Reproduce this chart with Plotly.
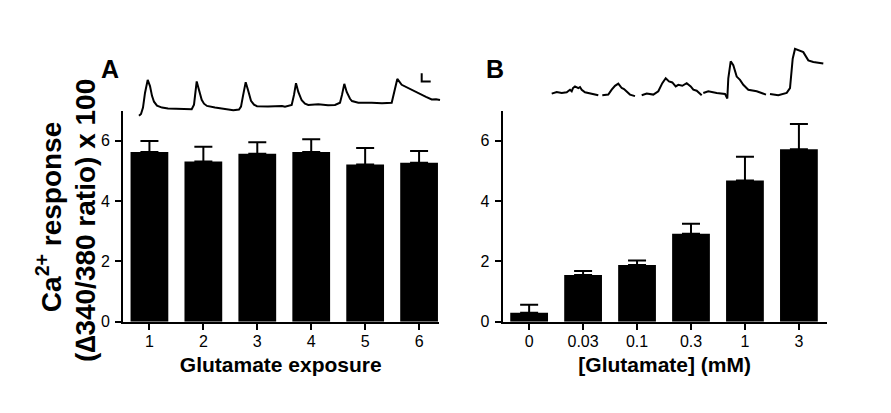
import plotly.graph_objects as go

W, H = 891, 413

# ---- Data ----
exposure = [1, 2, 3, 4, 5, 6]
resp_a = [5.63, 5.31, 5.57, 5.63, 5.21, 5.27]
err_a = [0.36, 0.49, 0.38, 0.42, 0.55, 0.39]

glu_labels = ["0", "0.03", "0.1", "0.3", "1", "3"]
glu_pos = [0, 1, 2, 3, 4, 5]
resp_b = [0.30, 1.55, 1.88, 2.92, 4.68, 5.72]
err_b = [0.27, 0.13, 0.15, 0.33, 0.79, 0.83]

# Example Ca2+ traces (in trace-window units)
trace_a_x = [139, 141, 143, 145, 147.7, 150, 152, 154, 157, 162, 168, 175, 183, 191.7, 194, 195.5, 196.7,
             199, 201.7, 204, 207, 215, 225, 233.3, 239, 241, 243, 245.7, 248, 251, 254, 257, 268, 282,
             285, 291.7, 294, 296, 298.3, 301.7, 305, 308.3, 318.3, 328, 335, 340, 342, 344.3, 346.7, 350,
             352, 358.3, 371.7, 382, 391.7, 393.3, 395.5, 397.3, 401.7, 406, 411.7, 416, 421.7, 426, 431.7,
             436, 440]
trace_a_y = [118.3, 116.5, 110, 95, 81.7, 88, 98, 104, 108, 110, 111, 111.3, 111.5, 111.7, 107, 95, 83.3,
             92, 102, 106, 108.3, 110, 111.7, 112.7, 112, 109, 98, 84, 92, 103, 107, 108.5, 109, 108.3,
             109, 107.3, 97, 85, 94, 102.5, 106, 107.3, 106.7, 107.5, 107.3, 105, 97, 85.7, 94, 101,
             103.3, 105, 105, 105.5, 105, 98.3, 86, 80.7, 86.7, 89, 91.7, 93.5, 96.7, 99, 101.7,
             101.5, 102.3]
scale_a_x = [421.7, 421.7, 430.7]
scale_a_y = [75, 83.3, 83.3]

trace_b_x = [551.7, 556.7, 561.7, 566.7, 569, 570, 571.7, 573, 575, 576.5, 578.3, 580, 581.7, 585, 591.7, 598.3, None,
             602.3, 608.3, 611.7, 615, 618.3, 621.7, 624, 626.7, 630, 635, None,
             641.7, 646.7, 653.3, 658.3, 662.3, 665.7, 669, 672.3, 675.7, 678.3, 682.3, 686.7, 690.7, 693.3, 696.7, 701.7, None,
             703.3, 708.3, 716.7, 725, 727.3, 728.3, 730.7, 733.3, 736.7, 740, 743.3, 748.3, 756.7, 766, None,
             770, 778.3, 786.7, 790, 792.7, 795, 803.3, 808.3, 813.3, 823.3]
trace_b_y = [95.7, 94, 95, 94.3, 92.5, 91.7, 93.3, 90, 88.3, 89.5, 90, 89, 91.7, 94.3, 95.7, 97.3, None,
             97.3, 96.7, 91.7, 87.7, 85.5, 90, 91, 93.3, 96.7, 98.3, None,
             97.3, 95.7, 96.7, 93.3, 85, 80, 83.3, 84.3, 88.3, 86.7, 87.7, 85, 88.3, 91.7, 92.7, 97.3, None,
             95, 93.3, 95, 96, 100.7, 80, 62.7, 66.7, 78.3, 81.7, 86.7, 91.7, 93.3, 96.7, None,
             96, 97.3, 95, 90, 60, 50, 53.3, 61.7, 63.3, 65]

FONT = "Arial, Liberation Sans, sans-serif"


def px(xp):
    return xp / W


def py(yp):
    return 1 - yp / H


fig = go.Figure()

fig.add_trace(go.Bar(x=exposure, y=resp_a, width=0.7, marker=dict(color="black", line=dict(width=0)),
                     error_y=dict(type="data", symmetric=False, array=err_a, arrayminus=[0]*6,
                                  color="black", thickness=2, width=9),
                     xaxis="x", yaxis="y", showlegend=False))
fig.add_trace(go.Bar(x=glu_pos, y=resp_b, width=0.7, marker=dict(color="black", line=dict(width=0)),
                     error_y=dict(type="data", symmetric=False, array=err_b, arrayminus=[0]*6,
                                  color="black", thickness=2, width=9),
                     xaxis="x2", yaxis="y2", showlegend=False))

for tx, ty in [(trace_a_x, trace_a_y), (scale_a_x, scale_a_y), (trace_b_x, trace_b_y)]:
    fig.add_trace(go.Scatter(x=tx, y=ty, mode="lines", line=dict(color="black", width=2),
                             xaxis="x3", yaxis="y3", showlegend=False, hoverinfo="skip",
                             connectgaps=False))

yd = [py(329), py(113)]
axis_common = dict(showline=True, linecolor="black", linewidth=2, ticks="outside", ticklen=6,
                   tickwidth=2, tickcolor="black", showgrid=False, zeroline=False,
                   tickfont=dict(family=FONT, size=16, color="black"))

fig.update_layout(
    width=W, height=H, margin=dict(l=0, r=0, t=0, b=0),
    paper_bgcolor="white", plot_bgcolor="rgba(0,0,0,0)",
    bargap=0.3,
    xaxis=dict(domain=[px(123), px(438.5)], range=[0.51, 6.36], tickvals=exposure,
               ticktext=[str(v) for v in exposure], anchor="y", ticklabelstandoff=-2,
               title=dict(text="<b>Glutamate exposure</b>", font=dict(family=FONT, size=21, color="black"),
                          standoff=8), **axis_common),
    yaxis=dict(domain=yd, range=[0, 7], tickvals=[0, 2, 4, 6], anchor="x", ticklabelstandoff=2,
               **axis_common),
    xaxis2=dict(domain=[px(502.7), px(826.7)], range=[-0.49, 5.515], tickvals=glu_pos,
                ticktext=glu_labels, anchor="y2", ticklabelstandoff=-2,
                title=dict(text="<b>[Glutamate] (mM)</b>", font=dict(family=FONT, size=21, color="black"),
                           standoff=8), **axis_common),
    yaxis2=dict(domain=yd, range=[0, 7], tickvals=[0, 2, 4, 6], anchor="x2", ticklabelstandoff=2,
                **axis_common),
    xaxis3=dict(domain=[0, 1], range=[0, W], visible=False, anchor="y3", fixedrange=True),
    yaxis3=dict(domain=[0, 1], range=[H, 0], visible=False, anchor="x3", fixedrange=True),
)

annos = [
    dict(text="<b>A</b>", x=px(109.5), y=py(71), size=25, angle=0),
    dict(text="<b>B</b>", x=px(494.5), y=py(71), size=25, angle=0),
    dict(text="<b>Ca<sup>2+</sup> response</b>", x=px(49), y=py(222), size=28, angle=-90),
    dict(text="<b>(\u2206340/380 ratio) x 100</b>", x=px(85), y=py(226), size=28, angle=-90),
]
for a in annos:
    fig.add_annotation(text=a["text"], x=a["x"], y=a["y"], xref="paper", yref="paper",
                       xanchor="center", yanchor="middle", showarrow=False, textangle=a["angle"],
                       font=dict(family=FONT, size=a["size"], color="black"))

fig.write_html("out.html", config={"displayModeBar": False},
               post_script="document.body.style.margin='0px';")
